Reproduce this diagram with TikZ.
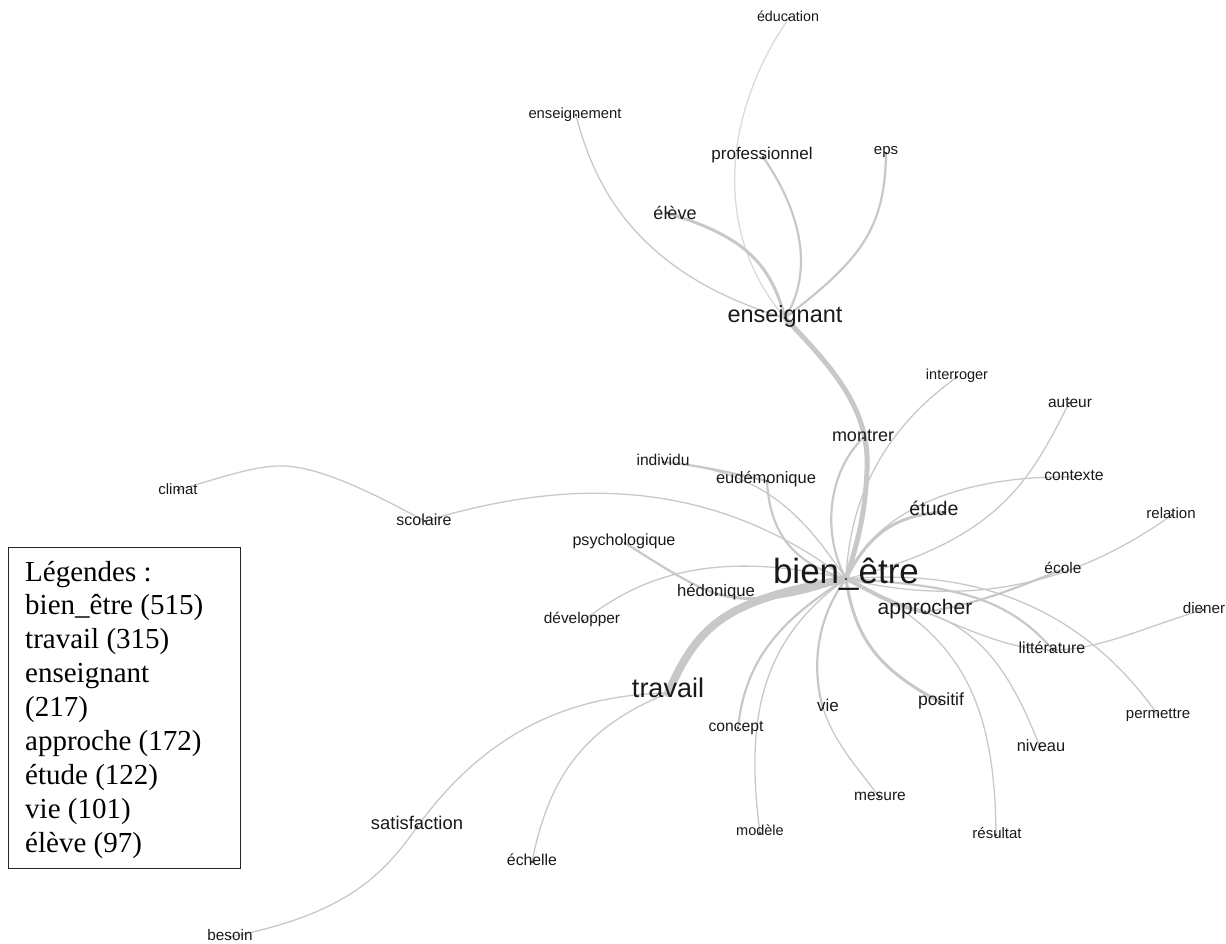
\documentclass[tikz,border=0pt]{standalone}
\usepackage{fontspec}
\newfontfamily\labfont{Liberation Sans}
\newfontfamily\legfont{Liberation Serif}
\definecolor{edgegray}{RGB}{200,200,200}
\definecolor{edgelight}{RGB}{218,218,218}
\definecolor{dotred}{RGB}{90,10,10}
\newcommand{\lf}[1]{\labfont\fontsize{#1}{#1}\selectfont}
\tikzset{
  edge/.style={draw=edgegray, line cap=round},
  e1/.style={edge, line width=1.3pt},
  e2/.style={edge, line width=2.2pt},
  e3/.style={edge, line width=3pt},
  lbl/.style={inner sep=0pt, text height=0.53em, text depth=0pt, text=black!90},
  legline/.style={inner sep=0pt, anchor=base west, font=\legfont\fontsize{29}{29}\selectfont}
}
\begin{document}
\begin{tikzpicture}[x=1pt,y=-1pt]
\useasboundingbox (0,0) rectangle (1226,944);
% graph vertices
\coordinate (be) at (846,579);
\coordinate (ens) at (785,318);
\coordinate (travail) at (668,693);
\coordinate (approcher) at (925,612);
\coordinate (etude) at (943,512);
\coordinate (montrer) at (863,438);
\coordinate (eleve) at (667,213);
\coordinate (prof) at (763,157);
\coordinate (eps) at (886,153);
\coordinate (educ) at (789,18);
\coordinate (enseignement) at (576,115);
\coordinate (interroger) at (957,377);
\coordinate (individu) at (663,462);
\coordinate (eudem) at (767,481);
\coordinate (psych) at (625,543);
\coordinate (hedon) at (717,594);
\coordinate (devel) at (583,621);
\coordinate (climat) at (178,490);
\coordinate (scolaire) at (425,521);
\coordinate (auteur) at (1069,403);
\coordinate (contexte) at (1075,477);
\coordinate (relation) at (1172,515);
\coordinate (ecole) at (1063,569);
\coordinate (diener) at (1203,610);
\coordinate (litt) at (1053,650);
\coordinate (permettre) at (1158,715);
\coordinate (niveau) at (1040,747);
\coordinate (positif) at (940,702);
\coordinate (vie) at (823,708);
\coordinate (concept) at (738,728);
\coordinate (mesure) at (879,797);
\coordinate (modele) at (760,833);
\coordinate (resultat) at (996,835);
\coordinate (satisf) at (417,827);
\coordinate (echelle) at (532,862);
\coordinate (besoin) at (230,937);

% connectors
\draw[e1, draw=edgelight] (educ) .. controls (725,110) and (710,230) .. (ens);
\draw[e1] (enseignement) .. controls (595,190) and (640,275) .. (ens);
\draw[e2] (prof) .. controls (800,210) and (815,270) .. (ens);
\draw[e2] (eps) .. controls (885,230) and (860,260) .. (ens);
\draw[e3] (eleve) .. controls (740,235) and (770,260) .. (ens);
\draw[edge, line width=5pt] (ens) .. controls (835,370) and (870,410) .. (867,470) .. controls (865,520) and (855,550) .. (be);
\draw[e1] (interroger) .. controls (890,425) and (850,490) .. (be);
\draw[e2] (montrer) .. controls (830,470) and (820,530) .. (be);
\draw[e2] (individu) .. controls (700,465) and (740,475) .. (eudem);
\draw[e1] (individu) .. controls (760,470) and (800,510) .. (be);
\draw[e2] (eudem) .. controls (770,540) and (800,565) .. (be);
\draw[e1] (scolaire) .. controls (530,490) and (690,460) .. (be);
\draw[e1] (climat) .. controls (230,475) and (265,462) .. (295,467) .. controls (335,473) and (385,500) .. (scolaire);
\draw[e2] (psych) .. controls (660,565) and (690,585) .. (hedon);
\draw[e1] (devel) .. controls (630,585) and (700,545) .. (be);
\draw[e3] (hedon) .. controls (760,605) and (800,595) .. (be);
\draw[edge, line width=8pt] (travail) .. controls (700,620) and (730,600) .. (be);
\draw[e3] (etude) .. controls (900,515) and (870,530) .. (be);
\draw[e1] (contexte) .. controls (980,475) and (880,500) .. (be);
\draw[e1] (auteur) .. controls (1030,480) and (1000,540) .. (be);
\draw[e1] (relation) .. controls (1080,580) and (980,610) .. (be);
\draw[e2] (ecole) .. controls (1000,595) and (970,605) .. (approcher);
\draw[edge, line width=4pt] (approcher) .. controls (890,605) and (870,590) .. (be);
\draw[e2] (be) .. controls (960,585) and (1010,600) .. (litt);
\draw[e1] (approcher) .. controls (970,630) and (1010,650) .. (litt);
\draw[e1] (litt) .. controls (1100,650) and (1150,625) .. (diener);
\draw[e1] (be) .. controls (950,570) and (1070,590) .. (permettre);
\draw[e1] (approcher) .. controls (980,630) and (1010,670) .. (niveau);
\draw[e1] (be) .. controls (960,630) and (995,700) .. (resultat);
\draw[e3] (be) .. controls (855,640) and (880,670) .. (positif);
\draw[e2] (be) .. controls (815,620) and (812,670) .. (vie);
\draw[e1] (vie) .. controls (835,745) and (860,770) .. (mesure);
\draw[e2] (be) .. controls (780,620) and (745,660) .. (concept);
\draw[e1] (be) .. controls (760,640) and (745,720) .. (modele);
\draw[e1] (travail) .. controls (560,695) and (480,740) .. (satisf);
\draw[e1] (satisf) .. controls (380,880) and (340,915) .. (besoin);
\draw[e1] (travail) .. controls (590,725) and (550,770) .. (echelle);

% vertex dots
\foreach \v in {be,ens,travail,approcher,etude,montrer,eleve,prof,eps,educ,enseignement,interroger,individu,eudem,psych,hedon,devel,climat,scolaire,auteur,contexte,relation,ecole,diener,litt,permettre,niveau,positif,vie,concept,mesure,modele,resultat,satisf,echelle,besoin}
  \fill[dotred] (\v) circle (1.2);

% labels
\node[lbl, font=\lf{35}] (Lbe) at (846,581) {bien\_être};
\node[lbl, font=\lf{23.5}] (Lens) at (785,320) {enseignant};
\node[lbl, font=\lf{27}] (Ltravail) at (668,695) {travail};
\node[lbl, font=\lf{21}] (Lapprocher) at (925,612) {approcher};
\node[lbl, font=\lf{19.6}] (Letude) at (934,513) {étude};
\node[lbl, font=\lf{18}] (Lmontrer) at (863,439) {montrer};
\node[lbl, font=\lf{18}] (Leleve) at (675,217) {élève};
\node[lbl, font=\lf{17}] (Lprof) at (762,157) {professionnel};
\node[lbl, font=\lf{15}] (Leps) at (886,152) {eps};
\node[lbl, font=\lf{14.3}] (Leduc) at (788,19) {éducation};
\node[lbl, font=\lf{14.8}] (Lenseignement) at (575,116) {enseignement};
\node[lbl, font=\lf{14.5}] (Linterroger) at (957,377) {interroger};
\node[lbl, font=\lf{15.6}] (Lindividu) at (663,463) {individu};
\node[lbl, font=\lf{16.5}] (Leudem) at (766,481) {eudémonique};
\node[lbl, font=\lf{16.1}] (Lpsych) at (624,543) {psychologique};
\node[lbl, font=\lf{16.7}] (Lhedon) at (716,594) {hédonique};
\node[lbl, font=\lf{15.4}] (Ldevel) at (582,621) {développer};
\node[lbl, font=\lf{15}] (Lclimat) at (178,492) {climat};
\node[lbl, font=\lf{16}] (Lscolaire) at (424,523) {scolaire};
\node[lbl, font=\lf{15.5}] (Lauteur) at (1070,405) {auteur};
\node[lbl, font=\lf{15.7}] (Lcontexte) at (1074,478) {contexte};
\node[lbl, font=\lf{15}] (Lrelation) at (1171,516) {relation};
\node[lbl, font=\lf{15.5}] (Lecole) at (1063,571) {école};
\node[lbl, font=\lf{15.2}] (Ldiener) at (1204,611) {diener};
\node[lbl, font=\lf{16}] (Llitt) at (1052,651) {littérature};
\node[lbl, font=\lf{15}] (Lpermettre) at (1158,716) {permettre};
\node[lbl, font=\lf{16.4}] (Lniveau) at (1041,749) {niveau};
\node[lbl, font=\lf{17.6}] (Lpositif) at (941,703) {positif};
\node[lbl, font=\lf{17}] (Lvie) at (828,709) {vie};
\node[lbl, font=\lf{15.7}] (Lconcept) at (736,729) {concept};
\node[lbl, font=\lf{15.5}] (Lmesure) at (880,798) {mesure};
\node[lbl, font=\lf{14.5}] (Lmodele) at (760,833) {modèle};
\node[lbl, font=\lf{15}] (Lresultat) at (997,836) {résultat};
\node[lbl, font=\lf{18.4}] (Lsatisf) at (417,827) {satisfaction};
\node[lbl, font=\lf{15.8}] (Lechelle) at (532,863) {échelle};
\node[lbl, font=\lf{15.3}] (Lbesoin) at (230,938) {besoin};

% legend
\node[draw=black!85, line width=1pt, inner sep=0pt, minimum width=232pt, minimum height=321pt, anchor=north west] (legend) at (8,547) {};
\node[legline] (g0) at (25,581) {Légendes :};
\node[legline] (g1) at (25,614.9) {bien\_être (515)};
\node[legline] (g2) at (25,648.8) {travail (315)};
\node[legline] (g3) at (25,682.7) {enseignant};
\node[legline] (g4) at (25,716.6) {(217)};
\node[legline] (g5) at (25,750.5) {approche (172)};
\node[legline] (g6) at (25,784.4) {étude (122)};
\node[legline] (g7) at (25,818.3) {vie (101)};
\node[legline] (g8) at (25,852.2) {élève (97)};
\end{tikzpicture}
\end{document}
